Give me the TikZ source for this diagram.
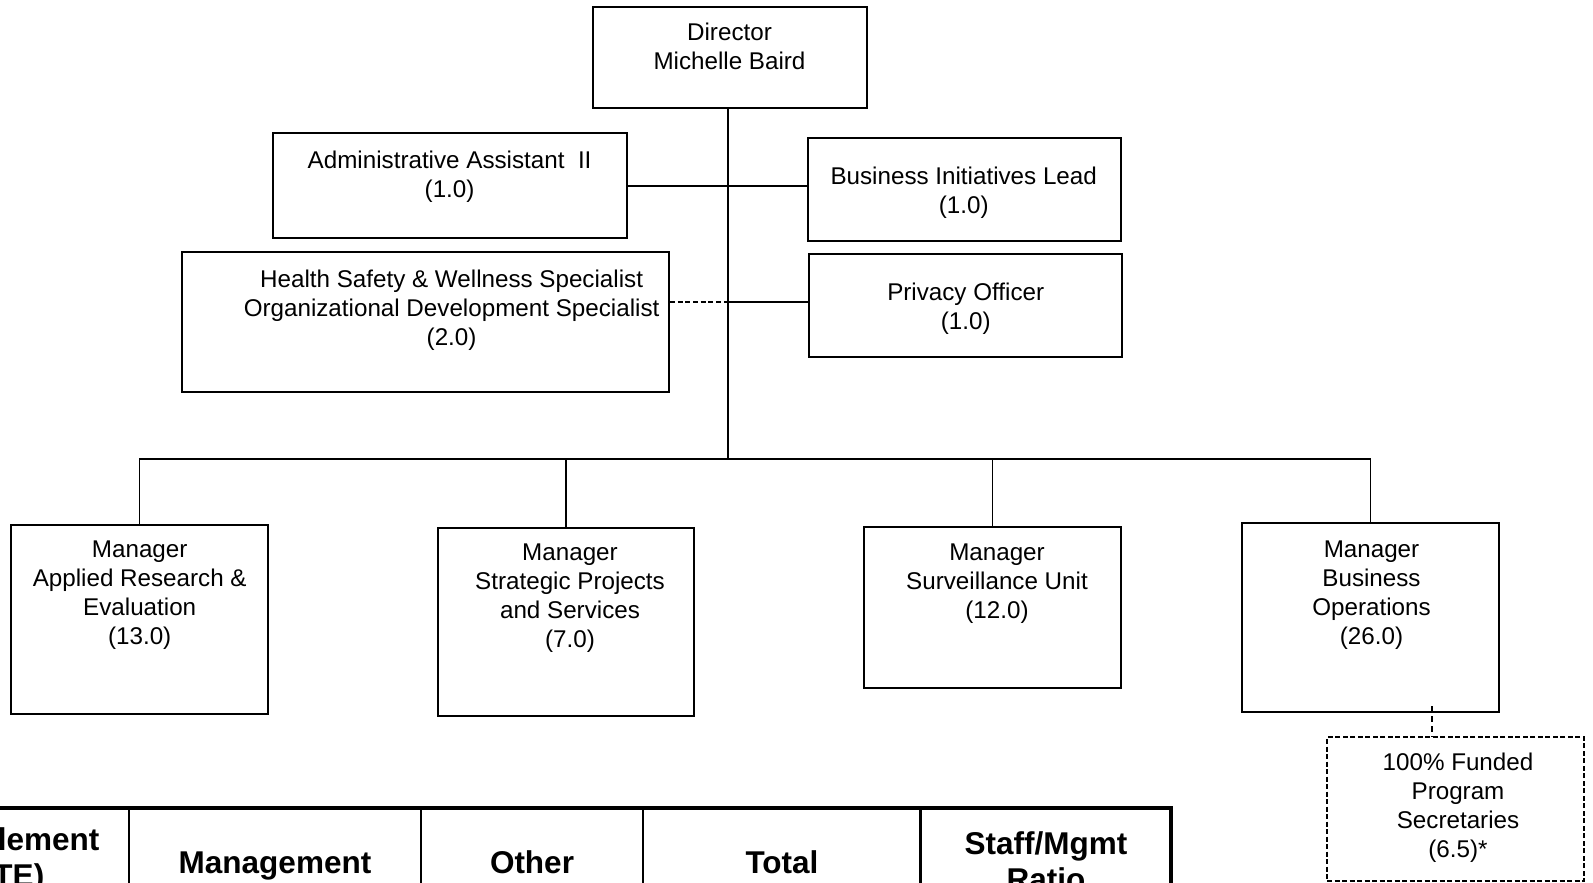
\documentclass[tikz,border=0pt]{standalone}
\usepackage{fontspec}
\setmainfont{Liberation Sans}
\begin{document}
\begin{tikzpicture}[x=1pt,y=-1pt,
  box/.style={draw,line width=1.8pt,inner sep=0pt,rectangle},
  dbox/.style={box,line width=1.4pt,dash pattern=on 5pt off 2.5pt},
  link/.style={line width=1.8pt},
  dlink/.style={line width=1.4pt,dash pattern=on 5pt off 2.7pt},
  txt/.style={anchor=north,inner sep=0pt,align=center,
    font=\fontsize{24.2}{29}\selectfont},
  head/.style={anchor=north,inner sep=0pt,align=center,
    font=\bfseries\fontsize{31.5}{36}\selectfont},
  outer/.style={line width=4.5pt},
  inner/.style={line width=2.4pt}]
\useasboundingbox (0,0) rectangle (1593,883);
\clip (0,0) rectangle (1593,883);

% boxes of the chart
\node[box,minimum width=274pt,minimum height=101pt] (dir) at (730,57.5) {};
\node[box,minimum width=354pt,minimum height=105pt] (admin) at (450,185.5) {};
\node[box,minimum width=313pt,minimum height=103pt] (bil) at (964.5,189.5) {};
\node[box,minimum width=487pt,minimum height=140pt] (hsw) at (425.5,322) {};
\node[box,minimum width=313pt,minimum height=103pt] (priv) at (965.5,305.5) {};
\node[box,minimum width=257pt,minimum height=189pt] (m1) at (139.5,619.5) {};
\node[box,minimum width=256pt,minimum height=188pt] (m2) at (566,622) {};
\node[box,minimum width=257pt,minimum height=161pt] (m3) at (992.5,607.5) {};
\node[box,minimum width=257pt,minimum height=189pt] (m4) at (1370.5,617.5) {};
\node[dbox,minimum width=257pt,minimum height=144pt] (fund) at (1455.5,809) {};

% box texts
\node[txt] (tdir) at (729.5,20) {\strut Director\\Michelle Baird};
\node[txt] (tadmin) at (449.6,148) {\strut Administrative Assistant\ \ II\\(1.0)};
\node[txt] (tbil) at (963.7,164.3) {\strut Business Initiatives Lead\\(1.0)};
\node[txt] (thsw) at (451.6,267) {\strut Health Safety \& Wellness Specialist\\Organizational Development Specialist\\(2.0)};
\node[txt] (tpriv) at (965.7,280) {\strut Privacy Officer\\(1.0)};
\node[txt] (tm1) at (139.7,537) {\strut Manager\\Applied Research \&\\Evaluation\\(13.0)};
\node[txt] (tm2) at (570,540) {\strut Manager\\Strategic Projects\\and Services\\(7.0)};
\node[txt] (tm3) at (997,540) {\strut Manager\\Surveillance Unit\\(12.0)};
\node[txt] (tm4) at (1371.5,536.5) {\strut Manager\\Business\\Operations\\(26.0)};
\node[txt] (tfund) at (1458,750) {\strut 100\% Funded\\Program\\Secretaries\\(6.5)*};

% reporting lines
\coordinate (trunk) at (728,459);
\coordinate (jadmin) at (728,186);
\coordinate (jhsw) at (728,302);
\draw[link] (dir.south -| trunk) -- (trunk);
\draw[link] (admin.east |- jadmin) -- (jadmin) -- (jadmin -| bil.west);
\draw[dlink] (hsw.east |- jhsw) -- (jhsw);
\draw[link] (jhsw) -- (jhsw -| priv.west);
\draw[link] (m1.north) -- (m1.north |- trunk) -- (m4.north |- trunk) -- (m4.north);
\draw[link] (m2.north) -- (m2.north |- trunk);
\draw[link] (m3.north) -- (m3.north |- trunk);
\coordinate (sec) at (1432,706);
\draw[line width=1.4pt,dash pattern=on 6pt off 4pt] (sec) -- (sec |- fund.north);

% staffing table
\draw[inner] (129,808) -- (129,900);
\draw[inner] (421,808) -- (421,900);
\draw[inner] (643,808) -- (643,900);
\draw[inner] (920.5,808) -- (920.5,900);
\draw[outer] (-20,808) -- (1171,808) -- (1171,900);
\node[head] (hc) at (4,824.8) {\strut Complement\\(FTE)};
\node[head] (hm) at (275,847.8) {\strut Management};
\node[head] (ho) at (532,847.8) {\strut Other};
\node[head] (ht) at (782,847.8) {\strut Total};
\node[head] (hr) at (1046,828.8) {\strut Staff/Mgmt\\Ratio};
\end{tikzpicture}
\end{document}
